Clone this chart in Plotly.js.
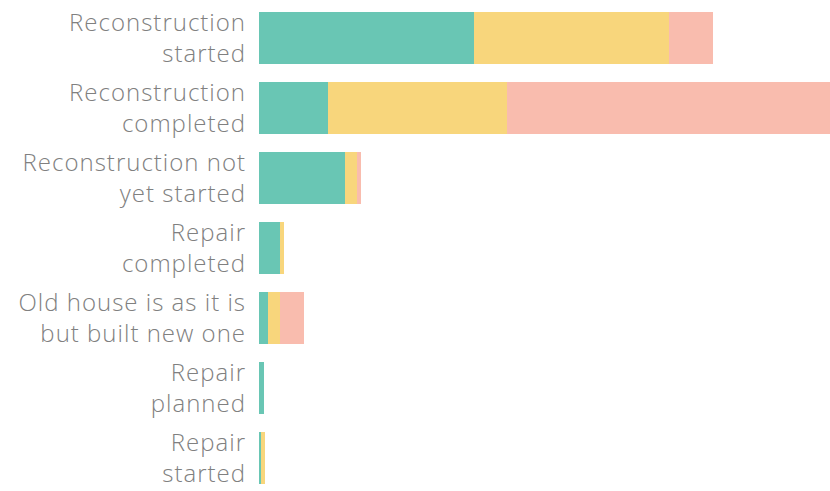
<!DOCTYPE html>
<html>
<head>
<meta charset="utf-8">
<script src="https://cdn.plot.ly/plotly-3.0.1.min.js"></script>
<style>
  html, body { margin: 0; padding: 0; background: #ffffff; }
  #chart { width: 830px; height: 491px; }
  #chart .ytick text { letter-spacing: 1px; }
</style>
</head>
<body>
<div id="chart"></div>
<script>
const categories = [
    'Reconstruction<br>started',
    'Reconstruction<br>completed',
    'Reconstruction not<br>yet started',
    'Repair<br>completed',
    'Old house is as it is<br>but built new one',
    'Repair<br>planned',
    'Repair<br>started',
];

const seriesA = [86, 27.6, 34.4, 8.4, 3.6, 2.0, 0.8];
const seriesB = [78, 71.6, 4.8, 1.6, 4.8, 0, 1.6];
const seriesC = [17.6, 129.2, 1.6, 0, 9.6, 0, 0];

const colors = ['#69c6b4', '#f8d67c', '#f9bcae'];

const traces = [seriesA, seriesB, seriesC].map((values, i) => ({
    type: 'bar',
    orientation: 'h',
    y: categories,
    x: values,
    marker: { color: colors[i], line: { width: 0 } },
    hoverinfo: 'x',
    showlegend: false,
}));

Plotly.newPlot('chart', traces, {
    width: 830,
    height: 491,
    barmode: 'stack',
    bargap: 0.27,
    margin: { t: 3, r: 0, b: 0, l: 259 },
    xaxis: {
        range: [0, 228.4],
        visible: false,
        fixedrange: true,
    },
    yaxis: {
        range: [6.471, -0.5],
        showgrid: false,
        zeroline: false,
        showline: false,
        ticks: '',
        ticklabelstandoff: 12,
        tickfont: { family: '"Open Sans", sans-serif', size: 24, weight: 300, color: '#808080' },
        fixedrange: true,
    },
    paper_bgcolor: '#ffffff',
    plot_bgcolor: '#ffffff',
}, {
    displayModeBar: false,
});
</script>
</body>
</html>
